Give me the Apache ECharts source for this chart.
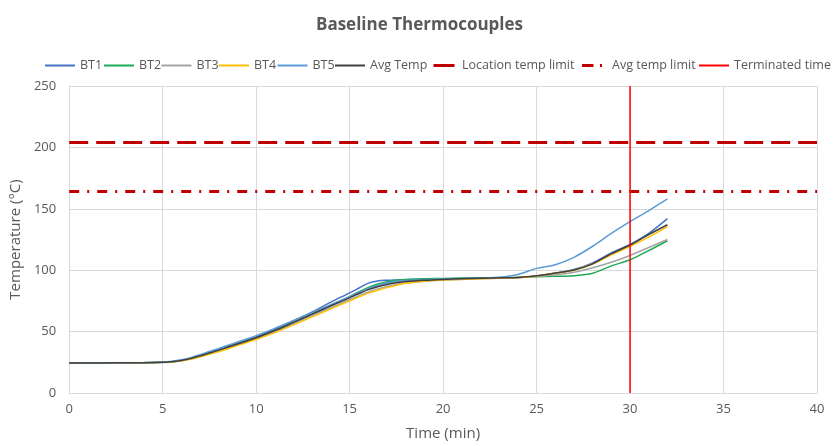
<!DOCTYPE html>
<html>
<head>
<meta charset="utf-8">
<script src="https://cdn.jsdelivr.net/npm/echarts@6/dist/echarts.min.js"></script>
<style>html,body{margin:0;padding:0;background:#fff}#c{width:839px;height:446px}</style>
</head>
<body>
<div id="c"></div>
<script>
const times = [0,1,2,3,4,5,5.5,6,6.5,7,7.5,8,8.5,9,9.5,10,11,12,13,14,15,15.5,16,16.5,17,17.5,18,19,20,21,22,23,24,25,26,27,28,29,30,31,32];
const bt1 = [24.5,24.5,24.5,24.6,24.7,25,25.5,26.6,28.2,30.4,32.8,35.2,37.8,40.4,43,45.6,52,58.8,66,74,81.5,85.5,89.5,91.2,91.8,92.1,92.3,92.6,92.9,93.2,93.5,93.7,94,95.3,97.5,100.5,106,114,121,130,142];
const bt2 = [24.5,24.5,24.5,24.6,24.7,25,25.4,26.5,28,30,32.3,34.6,37,39.6,42.1,44.8,50.8,57.5,64.5,71.5,78.5,82.5,86,88.8,90.6,91.8,92.5,93,93.3,93.6,93.8,94,94.2,94.6,95,95.5,97.5,103.5,108.5,116,124];
const bt3 = [24.3,24.3,24.3,24.4,24.5,24.8,25.3,26.3,27.8,29.8,32,34.3,36.8,39.3,41.8,44.3,50,56.5,63,69.5,76,79.2,82.3,84.8,86.8,88.4,89.5,91,92,92.6,93.1,93.5,93.9,94.8,96.3,98.4,102,106.5,112,118.5,125];
const bt4 = [24.5,24.5,24.5,24.6,24.7,25,25.3,26.2,27.5,29.4,31.5,33.7,36.1,38.6,41.1,43.6,49.2,55.5,62,68.5,75,78.3,81.3,83.6,85.8,87.8,89.3,91,92,92.5,93,93.5,94,95.3,97.5,100,105,112.5,119.5,127,135.5];
const bt5 = [24.6,24.6,24.6,24.7,24.8,25.2,25.8,27,28.8,31.2,33.8,36.3,38.9,41.5,44.1,46.7,52.6,59,65.5,72,78.5,81.8,85,87.5,89.5,90.8,91.6,92.3,92.8,93.2,93.6,94.2,96.5,101.5,104.5,110.5,119.5,130,139.5,148.5,158];
const avg = [24.5,24.5,24.5,24.6,24.7,25,25.4,26.5,28.1,30.2,32.5,34.9,37.4,39.9,42.4,45,50.9,57.5,64.2,71,77.5,81,84.2,86.6,88.4,89.7,90.7,91.8,92.5,93,93.4,93.7,94.1,95.4,97.7,100.2,105.2,113.5,120.5,129,137];
const locationLimit = 204;
const avgLimit = 164;
const terminatedTime = 30;
const xTicks = {min: 0, max: 40, interval: 5};
const yTicks = {min: 0, max: 250, interval: 50};
const legendNames = ['BT1','BT2','BT3','BT4','BT5','Avg Temp','Location temp limit','Avg temp limit','Terminated time'];

const pair = arr => times.map((t, i) => [t, arr[i]]);
const chart = echarts.init(document.getElementById('c'), null, {renderer: 'canvas'});
const txt = '#595959';
const font = 'Open Sans';
function dataSeries(name, arr, color, w) {
  return {name, type: 'line', data: pair(arr), showSymbol: false, symbol: 'none', smooth: 0.3,
    lineStyle: {color, width: w || 1.5}, itemStyle: {color}, z: 3};
}
const legendLefts = [44, 103, 160.5, 218, 276.5, 334, 425.5, 575.5, 698];
const legendLine = {
  'Location temp limit': {width: 3, type: [21, 9], dashOffset: 23.5},
  'Avg temp limit': {width: 3, type: [11.5, 6.5, 2, 10], dashOffset: 25}
};
const legends = legendNames.map((n, i) => ({
  left: legendLefts[i], top: 59, itemWidth: 30, itemHeight: 14, padding: 0,
  itemStyle: {opacity: 0},
  lineStyle: legendLine[n] || {},
  textStyle: {fontFamily: font, fontSize: 12.5, color: txt},
  data: [n]
}));
chart.setOption({
  animation: false,
  title: {text: 'Baseline Thermocouples', left: 'center', top: 12,
    textStyle: {fontFamily: font, fontSize: 17, fontWeight: 'bold', color: txt}},
  legend: legends,
  grid: {left: 66, right: 22, top: 86, bottom: 53},
  xAxis: {type: 'value', min: xTicks.min, max: xTicks.max, interval: xTicks.interval,
    name: 'Time (min)', nameLocation: 'middle', nameGap: 33,
    nameTextStyle: {fontFamily: font, fontSize: 15, color: txt},
    axisLine: {lineStyle: {color: '#d9d9d9'}}, axisTick: {show: false},
    axisLabel: {fontFamily: font, fontSize: 13, color: txt, margin: 10},
    splitLine: {show: true, lineStyle: {color: '#d9d9d9'}}},
  yAxis: {type: 'value', min: yTicks.min, max: yTicks.max, interval: yTicks.interval,
    name: 'Temperature (°C)', nameLocation: 'middle', nameGap: 40,
    nameTextStyle: {fontFamily: font, fontSize: 15, color: txt},
    axisLine: {show: true, lineStyle: {color: '#d9d9d9'}}, axisTick: {show: false},
    axisLabel: {fontFamily: font, fontSize: 13, color: txt, margin: 13},
    splitLine: {show: true, lineStyle: {color: '#d9d9d9'}}},
  series: [
    dataSeries('BT1', bt1, '#4472c4'),
    dataSeries('BT2', bt2, '#1eaa55'),
    dataSeries('BT3', bt3, '#a5a5a5'),
    dataSeries('BT4', bt4, '#ffc000'),
    dataSeries('BT5', bt5, '#5b9bd5'),
    dataSeries('Avg Temp', avg, '#404040'),
    {name: 'Location temp limit', type: 'line', symbol: 'none', data: [[xTicks.min, locationLimit],[xTicks.max, locationLimit]],
      lineStyle: {color: '#c00000', width: 3, type: [19, 8]}, itemStyle: {color: '#c00000'}, z: 2},
    {name: 'Avg temp limit', type: 'line', symbol: 'none', data: [[xTicks.min, avgLimit],[xTicks.max, avgLimit]],
      lineStyle: {color: '#c00000', width: 3, type: [10, 8, 2, 8]}, itemStyle: {color: '#c00000'}, z: 2},
    {name: 'Terminated time', type: 'line', symbol: 'none', data: [[terminatedTime, yTicks.min],[terminatedTime, yTicks.max]],
      lineStyle: {color: '#ff0000', width: 1.5}, itemStyle: {color: '#ff0000'}, z: 4}
  ]
});
</script>
</body>
</html>
